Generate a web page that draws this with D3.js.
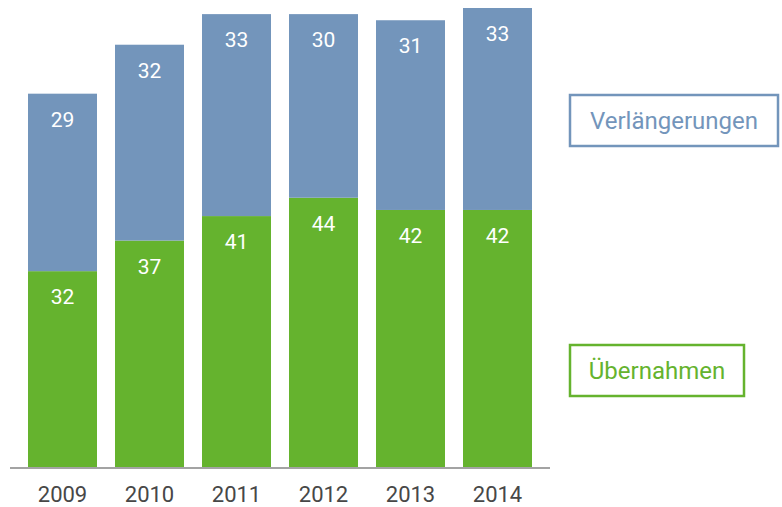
<!DOCTYPE html>
<html>
<head>
<meta charset="utf-8">
<script src="https://cdn.jsdelivr.net/npm/d3@7"></script>
<style>
  body { margin: 0; background: #fff; }
  svg { display: block; font-family: Roboto, "DejaVu Sans", sans-serif; }
</style>
</head>
<body>
<svg id="chart" width="782" height="507"></svg>
<script>
var years = ['2009', '2010', '2011', '2012', '2013', '2014']
var uebernahmen = [32, 37, 41, 44, 42, 42]
var verlaengerungen = [29, 32, 33, 30, 31, 33]
var seriesNames = ['Übernahmen', 'Verlängerungen']

var green = '#65b32e'
var blue = '#7395bb'

var rows = years.map((year, i) => ({year, uebernahmen: uebernahmen[i], verlaengerungen: verlaengerungen[i]}))
var stack = d3.stack().keys(['uebernahmen', 'verlaengerungen'])(rows)

var svg = d3.select('#chart')

var x = d3.scaleBand().domain(years).range([10, 550]).padding(0.207)
var y = d3.scaleLinear().domain([0, 75]).range([467, 8])

var colors = [green, blue]

var layerSel = svg.selectAll('g.layer').data(stack).join('g')
  .attr('class', 'layer')
  .attr('fill', (d, i) => colors[i])

layerSel.selectAll('rect').data(d => d).join('rect')
  .attr('x', d => x(d.data.year))
  .attr('width', x.bandwidth())
  .attr('y', d => y(d[1]))
  .attr('height', d => y(d[0]) - y(d[1]))

layerSel.selectAll('text').data(d => d).join('text')
  .attr('x', d => x(d.data.year) + x.bandwidth()/2)
  .attr('y', d => y(d[1]) + 33)
  .attr('text-anchor', 'middle')
  .attr('fill', '#fff')
  .attr('font-size', 21)
  .text(d => d[1] - d[0])

// baseline
svg.append('line')
  .attr('x1', x.range()[0]).attr('x2', x.range()[1])
  .attr('y1', y(0) + 1).attr('y2', y(0) + 1)
  .attr('stroke', '#a3a3a3').attr('stroke-width', 2)

var axis = svg.append('g')
  .attr('transform', `translate(0,${y(0) + 1})`)
  .call(d3.axisBottom(x).tickSize(0).tickPadding(18))
axis.select('.domain').remove()
axis.selectAll('text')
  .attr('font-family', 'Roboto, sans-serif')
  .attr('font-size', 22)
  .attr('fill', '#474747')

// legend boxes
var legend = [
  {name: seriesNames[1], color: blue, x: 570, y: 95, w: 208, h: 51},
  {name: seriesNames[0], color: green, x: 570, y: 345, w: 174, h: 51}
]

var legSel = svg.selectAll('g.legend').data(legend).join('g')
  .attr('class', 'legend')
  .attr('transform', d => `translate(${d.x},${d.y})`)

legSel.append('rect')
  .attr('width', d => d.w).attr('height', d => d.h)
  .attr('fill', 'none')
  .attr('stroke', d => d.color)
  .attr('stroke-width', 2.5)

legSel.append('text')
  .attr('x', d => d.w/2)
  .attr('y', d => d.h/2 + 8)
  .attr('text-anchor', 'middle')
  .attr('font-size', 24)
  .attr('fill', d => d.color)
  .text(d => d.name)
</script>
</body>
</html>
